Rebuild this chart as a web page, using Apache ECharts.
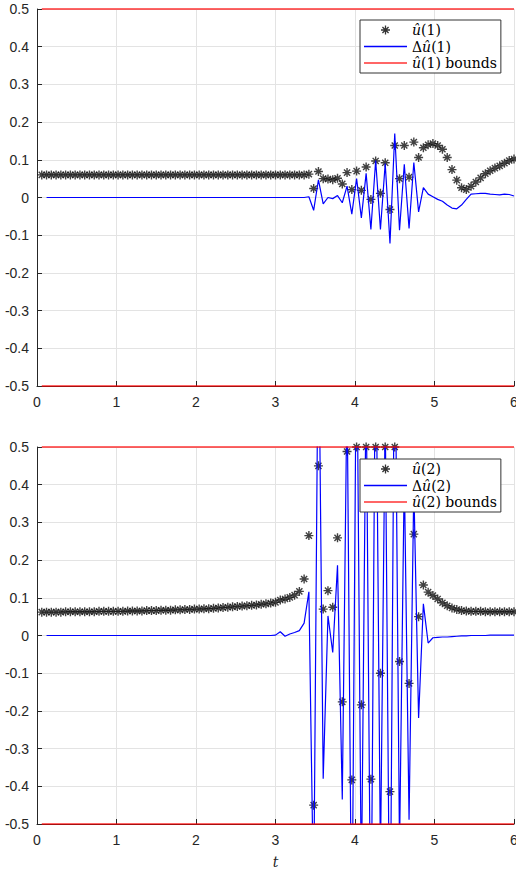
<!DOCTYPE html>
<html><head><meta charset="utf-8">
<script src="https://cdn.jsdelivr.net/npm/echarts@6/dist/echarts.min.js"></script>
<style>html,body{margin:0;padding:0;background:#fff}#c{width:516px;height:871px}</style>
</head><body><div id="c"></div>
<script>
// ---- data ----
const t = [0.06,0.12,0.18,0.24,0.30,0.36,0.42,0.48,0.54,0.60,
0.66,0.72,0.78,0.84,0.90,0.96,1.02,1.08,1.14,1.20,
1.26,1.32,1.38,1.44,1.50,1.56,1.62,1.68,1.74,1.80,
1.86,1.92,1.98,2.04,2.10,2.16,2.22,2.28,2.34,2.40,
2.46,2.52,2.58,2.64,2.70,2.76,2.82,2.88,2.94,3.00,
3.06,3.12,3.18,3.24,3.30,3.36,3.42,3.48,3.54,3.60,
3.66,3.72,3.78,3.84,3.90,3.96,4.02,4.08,4.14,4.20,
4.26,4.32,4.38,4.44,4.50,4.56,4.62,4.68,4.74,4.80,
4.86,4.92,4.98,5.04,5.10,5.16,5.22,5.28,5.34,5.40,
5.46,5.52,5.58,5.64,5.70,5.76,5.82,5.88,5.94,6.00];

const u1 = [0.06,0.06,0.06,0.06,0.06,0.06,0.06,0.06,0.06,0.06,
0.06,0.06,0.06,0.06,0.06,0.06,0.06,0.06,0.06,0.06,
0.06,0.06,0.06,0.06,0.06,0.06,0.06,0.06,0.06,0.06,
0.06,0.06,0.06,0.06,0.06,0.06,0.06,0.06,0.06,0.06,
0.06,0.06,0.06,0.06,0.06,0.06,0.06,0.06,0.06,0.06,
0.06,0.06,0.06,0.06,0.06,0.06,0.062,0.024,0.069,0.050,
0.049,0.047,0.051,0.036,0.066,0.021,0.070,0.019,0.081,-0.005,
0.097,0.011,0.092,-0.032,0.138,0.050,0.138,0.054,0.147,0.106,
0.132,0.140,0.143,0.138,0.128,0.106,0.074,0.046,0.026,0.021,
0.030,0.041,0.052,0.063,0.071,0.078,0.084,0.091,0.098,0.102];

const du1 = [null,0,0,0,0,0,0,0,0,0,
0,0,0,0,0,0,0,0,0,0,
0,0,0,0,0,0,0,0,0,0,
0,0,0,0,0,0,0,0,0,0,
0,0,0,0,0,0,0,0,0,0,
0,0,0,0,0,0,0.002,-0.034,0.047,-0.017,
0.000,-0.003,0.005,-0.014,0.030,-0.044,0.050,-0.054,0.064,-0.085,
0.098,-0.085,0.090,-0.122,0.170,-0.087,0.088,-0.082,0.093,-0.038,
0.026,0.009,0.002,-0.005,-0.010,-0.020,-0.028,-0.030,-0.020,-0.005,
0.009,0.010,0.011,0.011,0.009,0.008,0.007,0.009,0.008,0.004];

const u2 = [0.062,0.062,0.062,0.062,0.062,0.063,0.063,0.063,0.063,0.063,
0.063,0.063,0.064,0.064,0.064,0.064,0.064,0.064,0.065,0.065,
0.065,0.065,0.066,0.066,0.066,0.067,0.067,0.067,0.068,0.068,
0.069,0.069,0.070,0.070,0.071,0.071,0.072,0.073,0.074,0.075,
0.076,0.077,0.078,0.079,0.080,0.081,0.083,0.084,0.086,0.088,
0.094,0.097,0.101,0.107,0.117,0.150,0.265,-0.450,0.450,0.070,
0.119,0.075,0.259,-0.176,0.488,-0.383,0.500,-0.184,0.500,-0.381,
0.500,-0.100,0.500,-0.414,0.500,-0.069,0.362,-0.127,0.269,0.050,
0.134,0.115,0.106,0.097,0.087,0.079,0.073,0.069,0.066,0.065,
0.064,0.064,0.064,0.063,0.063,0.063,0.063,0.063,0.063,0.063];

const du2 = [null,0,0,0,0,0,0,0,0,0,
0,0,0,0,0,0,0,0,0,0,
0,0,0,0,0,0,0,0,0,0,
0,0,0,0,0,0,0,0,0,0,
0,0,0,0,0,0,0,0,0,0.001,
0.010,-0.002,0.004,0.008,0.013,0.033,0.116,-0.715,0.900,-0.380,
0.052,-0.045,0.186,-0.435,0.664,-0.871,0.883,-0.684,0.684,-0.881,
0.881,-0.600,0.600,-0.914,0.914,-0.569,0.431,-0.489,0.396,-0.219,
0.084,-0.020,-0.006,-0.005,-0.004,-0.004,-0.003,-0.002,-0.001,-0.001,
0,0,0,0,0.001,0.001,0.001,0.001,0.001,0.001];

const boundT = [0.06, 6.00];
const boundUpper = 0.5;
const boundLower = -0.5;

const xTickLabels = ['0','1','2','3','4','5','6'];
const yTickLabels = ['-0.5','-0.4','-0.3','-0.2','-0.1','0','0.1','0.2','0.3','0.4','0.5'];

const legendLabels = {
  u1: '{m|û}{n|(1)}', du1: '{n|Δ}{m|û}{n|(1)}', b1: '{m|û}{n|(1) bounds}',
  u2: '{m|û}{n|(2)}', du2: '{n|Δ}{m|û}{n|(2)}', b2: '{m|û}{n|(2) bounds}'
};

// ---- helpers ----
function pairs(vals){ const out=[]; for(let i=0;i<t.length;i++){ if(vals[i]!==null) out.push([t[i], vals[i]]); } return out; }
function bound(v){ return boundT.map(x => [x, v]); }

const AX = '#262626';
const BLUE = '#0000ff';
const RED = 'rgba(255,0,0,0.6)';
const ASTER = 'path://M5,0L5,10M0,5L10,5M1.6,1.6L8.4,8.4M8.4,1.6L1.6,8.4';
const LINEICON = 'path://M0,0L43,0L43,1.5L0,1.5Z';
const LINEICON2 = 'path://M0,0L43,0L43,2L0,2Z';

function xAxisCfg(gi, name){
  return {
    type:'value', gridIndex:gi, min:0, max:6, interval:1,
    axisLine:{onZero:false, lineStyle:{color:AX, width:1}},
    axisTick:{inside:true, length:5, lineStyle:{color:AX}},
    axisLabel:{color:AX, fontSize:14, fontFamily:'Liberation Sans, Arial, sans-serif', margin:9,
      formatter:(v,i)=>xTickLabels[i]},
    splitLine:{show:true, lineStyle:{color:'#e3e3e3', width:1}},
    name:name, nameLocation:'middle', nameGap:31,
    nameTextStyle:{fontFamily:'DejaVu Serif', fontStyle:'italic', fontSize:14, color:AX}
  };
}
function yAxisCfg(gi){
  return {
    type:'value', gridIndex:gi, min:-0.5, max:0.5, interval:0.1,
    axisLine:{show:true, onZero:false, lineStyle:{color:AX, width:1}},
    axisTick:{show:true, inside:true, length:5, lineStyle:{color:AX}},
    axisLabel:{color:AX, fontSize:14, fontFamily:'Liberation Sans, Arial, sans-serif', margin:8,
      formatter:(v,i)=>yTickLabels[i]},
    splitLine:{show:true, lineStyle:{color:'#e3e3e3', width:1}}
  };
}
function legendCfg(top, names){
  return {
    orient:'vertical', left:360, top:top, selectedMode:false,
    data:[
      {name:names[0], icon:ASTER, itemStyle:{color:'#000', borderColor:'#000', borderWidth:1.3}},
      {name:names[1], icon:LINEICON, itemStyle:{color:BLUE, borderWidth:0}},
      {name:names[2], icon:LINEICON2, itemStyle:{color:RED, borderWidth:0}}
    ],
    itemWidth:43, itemHeight:9, itemGap:2.5, padding:[3,4,3,4],
    backgroundColor:'#fff', borderColor:'#333', borderWidth:1, borderRadius:0,
    formatter: n => legendLabels[n],
    textStyle:{ rich:{
      m:{fontFamily:'DejaVu Serif', fontStyle:'italic', fontSize:14, lineHeight:17, color:'#000'},
      n:{fontFamily:'DejaVu Serif', fontSize:14, lineHeight:17, color:'#000'}
    }}
  };
}
function seriesFor(gi, uName, uVals, dName, dVals, bName){
  return [
    {name:uName, type:'scatter', xAxisIndex:gi, yAxisIndex:gi, data:pairs(uVals),
     symbol:ASTER, symbolSize:9, itemStyle:{color:'#000', borderColor:'#111', borderWidth:1.4}, z:2},
    {name:dName, type:'line', xAxisIndex:gi, yAxisIndex:gi, data:pairs(dVals), symbol:'none',
     lineStyle:{color:BLUE, width:1.2}, itemStyle:{color:BLUE}, z:3},
    {name:bName, type:'line', xAxisIndex:gi, yAxisIndex:gi, data:bound(boundUpper), symbol:'none',
     lineStyle:{color:RED, width:2}, itemStyle:{color:RED}, z:4},
    {name:bName, type:'line', xAxisIndex:gi, yAxisIndex:gi, data:bound(boundLower), symbol:'none',
     lineStyle:{color:RED, width:2}, itemStyle:{color:RED}, z:4}
  ];
}

const chart = echarts.init(document.getElementById('c'), null, {renderer:'svg'});
chart.setOption({
  animation:false,
  backgroundColor:'#fff',
  grid:[
    {left:37, top:9, width:477, height:377, outerBoundsMode:'none', containLabel:false},
    {left:37, top:447, width:477, height:377, outerBoundsMode:'none', containLabel:false}
  ],
  xAxis:[xAxisCfg(0,''), xAxisCfg(1,'t')],
  yAxis:[yAxisCfg(0), yAxisCfg(1)],
  legend:[legendCfg(20,['u1','du1','b1']), legendCfg(459,['u2','du2','b2'])],
  series:[].concat(
    seriesFor(0,'u1',u1,'du1',du1,'b1'),
    seriesFor(1,'u2',u2,'du2',du2,'b2')
  )
});
</script>
</body></html>
